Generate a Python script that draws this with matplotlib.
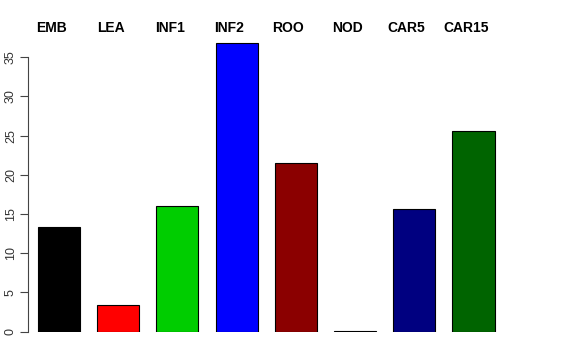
import matplotlib; matplotlib.use("Agg")
import matplotlib.pyplot as plt
import numpy as np

plt.rcParams["font.family"] = ["Liberation Sans", "DejaVu Sans"]

labels = ["EMB", "LEA", "INF1", "INF2", "ROO", "NOD", "CAR5", "CAR15"]
values = [13.3, 3.4, 16.0, 36.8, 21.5, 0.08, 15.7, 25.6]
colors = ["#000000", "#FF0000", "#00CD00", "#0000FF", "#8B0000", "#5A4F6A", "#000080", "#006400"]
yticks = [0, 5, 10, 15, 20, 25, 30, 35]

W, H = 576, 360
fig = plt.figure(figsize=(W/100, H/100), dpi=100)
# axes placed in pixel terms: left spine at x=28, zero at y=331.7
ax = fig.add_axes([28/W, 1-331.7/H, (512-28)/W, (331.7-41.6)/H])
x = np.arange(len(labels))
ax.bar(x, values, width=0.71, color=colors, edgecolor="black", linewidth=0.8)
ax.set_xlim(-0.524, 7.65)
ax.set_ylim(0, 37)

for s in ["top", "right", "bottom"]:
    ax.spines[s].set_visible(False)
ax.spines["left"].set_bounds(0, 35)
ax.spines["left"].set_color("#444444")
ax.spines["left"].set_linewidth(0.8)
ax.set_xticks([])
ax.set_yticks(yticks)
ax.set_yticklabels([str(t) for t in yticks], rotation=90, va="center", fontsize=9, color="#333333")
ax.tick_params(axis="y", length=6, width=0.8, color="#444444", pad=2)

for xi, lab in zip(x, labels):
    ax.text(xi - 0.13, 38.7, lab, ha="center", va="center", fontsize=10,
            fontweight="bold", clip_on=False)

fig.savefig("out.png", dpi=100)
